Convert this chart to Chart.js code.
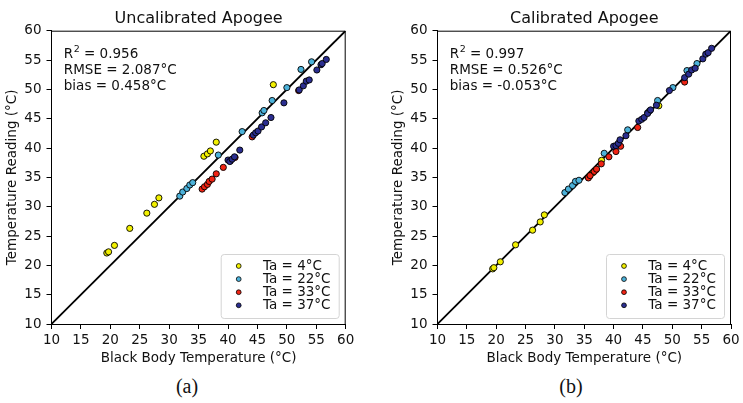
<!DOCTYPE html>
<html>
<head>
<meta charset="utf-8">
<script src="https://cdn.jsdelivr.net/npm/chart.js@4.4.1/dist/chart.umd.min.js"></script>
<style>
  body { margin: 0; background: #fff; }
  #wrap { position: relative; width: 743px; height: 403px; }
  canvas { position: absolute; top: 0; }
  .panel {
    position: absolute;
    top: 375px;
    font-family: "Liberation Serif", "Times New Roman", serif;
    font-size: 20px;
    color: #111;
    transform: translateX(-50%);
  }
</style>
</head>
<body>
<div id="wrap">
  <canvas id="uncal" width="370" height="371" style="left:0"></canvas>
  <canvas id="cal" width="357" height="371" style="left:386px"></canvas>
  <div class="panel" style="left:187px">(a)</div>
  <div class="panel" style="left:571px">(b)</div>
</div>
<script>
// axis ticks (both axes, both panels)
const tickValues = [10, 15, 20, 25, 30, 35, 40, 45, 50, 55, 60];
const oneToOne = [10, 60];

const groupLabels = ["Ta = 4°C", "Ta = 22°C", "Ta = 33°C", "Ta = 37°C"];
const groupColors = ["#f2f000", "#4cb2da", "#f02414", "#2b2e90"];

// uncalibrated readings
const rawX4 = [19.4, 19.7, 20.7, 23.3, 26.2, 27.5, 28.25, 35.9, 36.5, 37.0, 38.0, 47.7];
const rawY4 = [22.1, 22.3, 23.4, 26.3, 28.9, 30.4, 31.5, 38.6, 39.0, 39.5, 41.0, 50.8];
const rawX22 = [31.8, 32.3, 33.0, 33.5, 34.0, 38.35, 42.4, 45.8, 46.1, 47.5, 50.0, 52.4, 54.2];
const rawY22 = [31.8, 32.5, 33.1, 33.7, 34.1, 38.8, 42.8, 46.0, 46.4, 48.1, 50.3, 53.4, 54.7];
const rawX33 = [35.6, 36.0, 36.5, 36.8, 37.3, 38.0, 39.2, 40.4, 41.2, 44.1, 52.0];
const rawY33 = [33.0, 33.4, 33.8, 34.3, 34.7, 35.6, 36.7, 37.8, 38.4, 41.9, 49.8];
const rawX37 = [40.0, 40.3, 40.7, 41.1, 42.0, 44.3, 44.7, 45.1, 45.7, 46.4, 47.3, 49.5, 52.1, 52.8, 53.3, 53.8, 55.1, 55.8, 56.0, 56.7];
const rawY37 = [37.95, 37.7, 38.1, 38.5, 39.65, 42.2, 42.6, 42.9, 43.6, 44.3, 45.2, 47.7, 49.9, 50.6, 51.4, 51.6, 53.3, 54.2, 54.4, 55.1];

// calibrated readings
const calX4 = [19.4, 19.6, 20.7, 23.3, 26.2, 27.5, 28.2, 35.9, 36.5, 37.0, 37.95, 47.7];
const calY4 = [19.4, 19.6, 20.6, 23.5, 26.0, 27.4, 28.6, 35.2, 35.8, 36.3, 37.9, 47.2];
const calX22 = [31.7, 32.3, 33.0, 33.5, 34.1, 38.4, 42.4, 45.8, 46.1, 47.5, 50.1, 52.5, 54.2];
const calY22 = [32.4, 33.0, 33.6, 34.3, 34.5, 39.1, 43.1, 46.0, 46.3, 48.1, 50.3, 53.2, 54.4];
const calX33 = [35.7, 36.0, 36.7, 37.1, 37.9, 39.2, 40.4, 41.2, 44.1, 52.1];
const calY33 = [34.9, 35.3, 36.0, 36.4, 37.3, 38.5, 39.4, 40.3, 43.5, 51.25];
const calX37 = [40.0, 40.4, 40.8, 41.1, 42.1, 44.3, 44.8, 45.2, 45.8, 46.3, 47.3, 49.5, 52.1, 52.8, 53.3, 53.9, 55.2, 55.7, 56.1, 56.7];
const calY37 = [40.3, 40.4, 40.8, 41.4, 42.1, 44.6, 44.9, 45.2, 45.9, 46.5, 47.3, 49.8, 52.0, 52.6, 53.3, 53.6, 55.2, 56.0, 56.25, 57.0];

// R², RMSE, bias
const rawStats = ["0.956", "2.087", "0.458"];
const calStats = ["0.997", "0.526", "-0.053"];

const FONT = '"DejaVu Sans", Verdana, sans-serif';
const INK = "#111";

function toPoints(xs, ys) {
  return xs.map((x, i) => ({ x: x, y: ys[i] }));
}

const panelPlugin = {
  id: "panel",
  afterDatasetsDraw(chart, args, opts) {
    const { ctx, chartArea: a } = chart;
    ctx.save();

    // top and right spines
    ctx.strokeStyle = "#000";
    ctx.lineWidth = 1;
    ctx.beginPath();
    ctx.moveTo(a.left, a.top + 0.5);
    ctx.lineTo(a.right - 0.5, a.top + 0.5);
    ctx.lineTo(a.right - 0.5, a.bottom);
    ctx.stroke();

    ctx.fillStyle = INK;

    // title
    ctx.font = "16px " + FONT;
    ctx.textAlign = "center";
    ctx.textBaseline = "alphabetic";
    ctx.fillText(opts.title, (a.left + a.right) / 2, a.top - 7.6);

    // stats block
    ctx.textAlign = "left";
    const sx = a.left + 12.3;
    ctx.font = "13.5px " + FONT;
    ctx.fillText("R", sx, a.top + 27.5);
    let w = ctx.measureText("R").width;
    ctx.font = "9.5px " + FONT;
    ctx.fillText("2", sx + w + 0.5, a.top + 21.5);
    const w2 = ctx.measureText("2").width;
    ctx.font = "13.5px " + FONT;
    ctx.fillText(" = " + opts.stats[0], sx + w + w2 + 0.5, a.top + 27.5);
    ctx.fillText("RMSE = " + opts.stats[1] + "°C", sx, a.top + 43.5);
    ctx.fillText("bias = " + opts.stats[2] + "°C", sx, a.top + 58.9);

    // legend
    const bw = 118, bh = 64;
    const bx = a.right - 7 - bw, by = a.bottom - 6 - bh;
    ctx.beginPath();
    ctx.roundRect(bx + 0.5, by + 0.5, bw, bh, 3);
    ctx.fillStyle = "rgba(255,255,255,0.85)";
    ctx.fill();
    ctx.strokeStyle = "#d4d4d4";
    ctx.stroke();

    const groups = chart.data.datasets.filter((d) => d.legend);
    groups.forEach((d, i) => {
      const cy = by + 12 + i * 13.1;
      ctx.beginPath();
      ctx.arc(bx + 18, cy, 2.4, 0, Math.PI * 2);
      ctx.fillStyle = d.backgroundColor;
      ctx.fill();
      ctx.lineWidth = 0.8;
      ctx.strokeStyle = "#000";
      ctx.stroke();
      ctx.fillStyle = INK;
      ctx.font = "13.5px " + FONT;
      ctx.textBaseline = "middle";
      ctx.fillText(d.label, bx + 42.3, cy + 0.5);
    });

    ctx.restore();
  },
};

function axis(title, isX, fitSize) {
  return {
    type: "linear",
    min: 10,
    max: 60,
    afterBuildTicks: (scale) => {
      scale.ticks = tickValues.map((v) => ({ value: v }));
    },
    afterFit: (scale) => {
      if (isX) scale.height = fitSize;
      else scale.width = fitSize;
    },
    grid: {
      display: true,
      drawOnChartArea: false,
      drawTicks: true,
      tickLength: 5,
      color: "#000",
      lineWidth: 1,
    },
    border: { display: true, color: "#000", width: 1 },
    ticks: {
      color: INK,
      padding: isX ? 3 : 5,
      font: { family: FONT, size: 13.5 },
      maxRotation: 0,
      autoSkip: false,
    },
    title: {
      display: true,
      text: title,
      color: INK,
      font: { family: FONT, size: 13.5 },
      padding: { top: 4, bottom: 4 },
    },
  };
}

function makeChart(id, title, stats, xs, ys, padRight) {
  const datasets = xs.map((xArr, g) => ({
    label: groupLabels[g],
    legend: true,
    data: toPoints(xArr, ys[g]),
    backgroundColor: groupColors[g],
    borderColor: "#000",
    borderWidth: 0.9,
    pointRadius: 3.1,
    order: 4 - g,
  }));
  datasets.push({
    label: "1:1",
    data: toPoints(oneToOne, oneToOne),
    showLine: true,
    borderColor: "#000",
    borderWidth: 1.8,
    pointRadius: 0,
    order: 10,
  });

  return new Chart(document.getElementById(id), {
    type: "scatter",
    data: { datasets: datasets },
    options: {
      responsive: false,
      animation: false,
      layout: { padding: { top: 30.7, right: padRight, bottom: 0, left: 0 } },
      plugins: {
        legend: { display: false },
        tooltip: { enabled: false },
        panel: { title: title, stats: stats },
      },
      scales: {
        x: axis("Black Body Temperature (°C)", true, 47),
        y: axis("Temperature Reading (°C)", false, 51.5),
      },
    },
    plugins: [panelPlugin],
  });
}

makeChart(
  "uncal",
  "Uncalibrated Apogee",
  rawStats,
  [rawX4, rawX22, rawX33, rawX37],
  [rawY4, rawY22, rawY33, rawY37],
  24.3
);
makeChart(
  "cal",
  "Calibrated Apogee",
  calStats,
  [calX4, calX22, calX33, calX37],
  [calY4, calY22, calY33, calY37],
  12
);
</script>
</body>
</html>
